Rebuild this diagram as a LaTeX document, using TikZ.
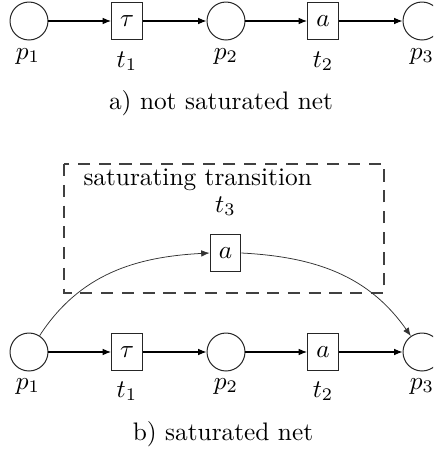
\documentclass[tikz,border=0pt]{standalone}
\usetikzlibrary{arrows.meta}
\begin{document}
\begin{tikzpicture}[x=0.395pt, y=-0.395pt,
  pl/.style={circle, draw=black!85, line width=0.4pt, minimum size=15pt, inner sep=0pt},
  tr/.style={rectangle, draw=black!85, line width=0.4pt, minimum width=12.2pt, minimum height=14.3pt, inner sep=0pt},
  lb/.style={anchor=base, inner sep=0pt},
  e/.style={-{Latex[length=3.3pt, width=2.6pt]}, line width=0.4pt},
  sat/.style={-{Latex[length=3.3pt, width=2.6pt]}, black!80, line width=0.3pt},
  grp/.style={black!75, line width=0.4pt, dash pattern=on 4.8pt off 3.4pt}]
\clip (0,0) rectangle (433,450);
% a) not saturated net
\def\ya{21}
\node[pl] (pa1) at (29,\ya) {};
\node[tr] (ta1) at (127,\ya) {$\tau$};
\node[pl] (pa2) at (226,\ya) {};
\node[tr] (ta2) at (323,\ya) {$a$};
\node[pl] (pa3) at (422,\ya) {};
\node[lb] (lpa1) at (28,59) {$p_1$};
\node[lb] (lta1) at (127,67) {$t_1$};
\node[lb] (lpa2) at (226,59) {$p_2$};
\node[lb] (lta2) at (323,67) {$t_2$};
\node[lb] (lpa3) at (422,59) {$p_3$};
\draw[e] (pa1) -- (ta1);
\draw[e] (ta1) -- (pa2);
\draw[e] (pa2) -- (ta2);
\draw[e] (ta2) -- (pa3);
\node[lb] (capa) at (221,109) {a) not saturated net};
% b) saturated net
\def\yb{352}
\draw[grp] (64,164) rectangle (384,293);
\node[lb, anchor=base west] (satl) at (83,185) {saturating transition};
\node[tr] (t3) at (225.5,253) {$a$};
\node[lb] (lt3) at (225.5,212) {$t_3$};
\node[pl] (pb1) at (29,\yb) {};
\node[tr] (tb1) at (127,\yb) {$\tau$};
\node[pl] (pb2) at (226,\yb) {};
\node[tr] (tb2) at (323,\yb) {$a$};
\node[pl] (pb3) at (422,\yb) {};
\node[lb] (lpb1) at (28,389) {$p_1$};
\node[lb] (ltb1) at (127,397) {$t_1$};
\node[lb] (lpb2) at (226,389) {$p_2$};
\node[lb] (ltb2) at (323,397) {$t_2$};
\node[lb] (lpb3) at (422,389) {$p_3$};
\draw[e] (pb1) -- (tb1);
\draw[e] (tb1) -- (pb2);
\draw[e] (pb2) -- (tb2);
\draw[e] (tb2) -- (pb3);
\draw[sat] (pb1.57) to[out=57, in=183] (t3.west);
\draw[sat] (t3.east) to[out=-3, in=125] (pb3.125);
\node[lb] (capb) at (223,440) {b) saturated net};
\end{tikzpicture}
\end{document}
